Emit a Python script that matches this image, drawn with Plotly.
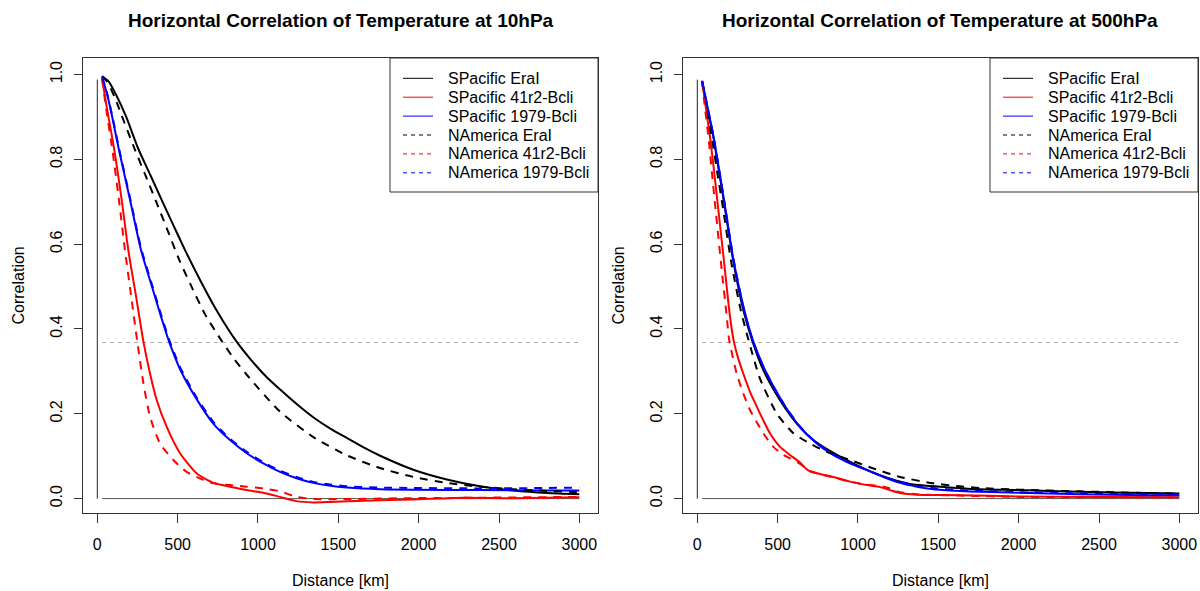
import plotly.graph_objects as go

W, H = 1200, 591

# ---------------- data ----------------
titles = ["Horizontal Correlation of Temperature at 10hPa",
          "Horizontal Correlation of Temperature at 500hPa"]
series_names = ["SPacific EraI", "SPacific 41r2-Bcli", "SPacific 1979-Bcli",
                "NAmerica EraI", "NAmerica 41r2-Bcli", "NAmerica 1979-Bcli"]
series_colors = ["#000000", "#ff0000", "#0000ff", "#000000", "#ff0000", "#0000ff"]
series_dashed = [False, False, False, True, True, True]

x_ticks = [0, 500, 1000, 1500, 2000, 2500, 3000]
y_ticks = [0.0, 0.2, 0.4, 0.6, 0.8, 1.0]
y_ticktext = ["0.0", "0.2", "0.4", "0.6", "0.8", "1.0"]
x_title = "Distance [km]"
y_title = "Correlation"

ref_level = 0.368           # 1/e reference level (dashed grey)
baseline_x = [30, 3000]     # zero line extent
baseline_y = [0.0, 0.0]
vline_x = [0, 0]            # vertical line at distance 0
vline_y = [0.0, 0.988]

# ---- 10 hPa ----
t10_sp_erai_x = [30, 70, 120, 180, 255, 330, 401, 473, 546, 650, 753, 867, 950, 1050, 1150, 1250, 1350, 1450, 1552, 1660, 1760, 1967, 2175, 2382, 2589, 2800, 3000]
t10_sp_erai_y = [0.996, 0.984, 0.950, 0.900, 0.825, 0.763, 0.704, 0.645, 0.586, 0.508, 0.437, 0.370, 0.330, 0.288, 0.253, 0.220, 0.190, 0.165, 0.143, 0.120, 0.101, 0.068, 0.045, 0.029, 0.019, 0.013, 0.010]

t10_sp_41r2_x = [30, 60, 106, 152, 193, 245, 287, 328, 370, 432, 515, 619, 722, 826, 930, 1033, 1137, 1240, 1344, 1448, 1656, 1967, 2278, 2589, 3000]
t10_sp_41r2_y = [0.990, 0.920, 0.822, 0.704, 0.586, 0.468, 0.370, 0.295, 0.232, 0.169, 0.107, 0.059, 0.037, 0.028, 0.020, 0.014, 0.004, -0.006, -0.009, -0.008, -0.005, -0.002, 0.002, 0.001, 0.003]

t10_sp_1979_x = [30, 60, 90, 135, 204, 272, 340, 400, 447, 515, 619, 722, 826, 930, 1033, 1137, 1240, 1344, 1450, 1552, 1760, 1967, 2382, 2800, 3000]
t10_sp_1979_y = [0.995, 0.955, 0.905, 0.822, 0.704, 0.586, 0.500, 0.425, 0.370, 0.305, 0.234, 0.177, 0.138, 0.107, 0.083, 0.063, 0.048, 0.037, 0.030, 0.026, 0.022, 0.021, 0.020, 0.019, 0.019]

t10_na_erai_x = [30, 60, 110, 150, 235, 300, 370, 440, 510, 580, 670, 774, 850, 930, 1137, 1345, 1552, 1760, 1967, 2175, 2382, 2589, 2800, 3000]
t10_na_erai_y = [0.996, 0.984, 0.945, 0.905, 0.822, 0.762, 0.697, 0.630, 0.563, 0.505, 0.435, 0.372, 0.330, 0.292, 0.205, 0.145, 0.102, 0.072, 0.051, 0.037, 0.028, 0.022, 0.018, 0.015]

t10_na_41r2_x = [30, 55, 94, 135, 172, 214, 249, 287, 328, 390, 473, 556, 660, 722, 826, 930, 1033, 1137, 1240, 1344, 1552, 1967, 2382, 3000]
t10_na_41r2_y = [0.990, 0.920, 0.822, 0.704, 0.586, 0.468, 0.370, 0.272, 0.193, 0.130, 0.091, 0.063, 0.044, 0.036, 0.032, 0.028, 0.024, 0.017, 0.004, -0.001, -0.001, 0.001, 0.002, 0.004]

t10_na_1979_x = [30, 60, 90, 135, 204, 272, 340, 400, 447, 515, 619, 722, 826, 930, 1033, 1137, 1240, 1344, 1450, 1552, 1760, 1967, 2382, 2800, 3000]
t10_na_1979_y = [0.995, 0.957, 0.908, 0.826, 0.709, 0.591, 0.505, 0.430, 0.375, 0.310, 0.238, 0.181, 0.141, 0.110, 0.086, 0.066, 0.051, 0.039, 0.033, 0.029, 0.026, 0.025, 0.024, 0.025, 0.026]

# ---- 500 hPa ----
t500_sp_erai_x = [30, 60, 100, 140, 172, 224, 286, 340, 411, 515, 619, 722, 850, 992, 1137, 1241, 1344, 1552, 1760, 2000, 2382, 2800, 3000]
t500_sp_erai_y = [0.983, 0.925, 0.853, 0.760, 0.685, 0.560, 0.445, 0.375, 0.303, 0.232, 0.177, 0.138, 0.107, 0.079, 0.055, 0.042, 0.033, 0.027, 0.022, 0.020, 0.016, 0.013, 0.012]

t500_sp_41r2_x = [30, 50, 79, 105, 131, 172, 200, 225, 255, 286, 330, 370, 410, 452, 515, 577, 639, 670, 701, 763, 846, 950, 1054, 1137, 1199, 1262, 1366, 1635, 2000, 2500, 3000]
t500_sp_41r2_y = [0.985, 0.930, 0.853, 0.770, 0.681, 0.539, 0.440, 0.375, 0.330, 0.295, 0.250, 0.217, 0.185, 0.154, 0.122, 0.103, 0.085, 0.073, 0.064, 0.058, 0.051, 0.040, 0.032, 0.027, 0.020, 0.013, 0.009, 0.008, 0.005, 0.004, 0.003]

t500_sp_1979_x = [30, 60, 100, 140, 172, 224, 286, 349, 432, 535, 639, 743, 846, 950, 1054, 1158, 1262, 1366, 1469, 1635, 1760, 2000, 2382, 2800, 3000]
t500_sp_1979_y = [0.985, 0.930, 0.855, 0.765, 0.690, 0.565, 0.455, 0.370, 0.295, 0.225, 0.169, 0.130, 0.103, 0.083, 0.067, 0.051, 0.037, 0.028, 0.022, 0.018, 0.016, 0.014, 0.010, 0.008, 0.008]

t500_na_erai_x = [30, 60, 90, 128, 160, 210, 270, 318, 390, 494, 598, 701, 805, 950, 1096, 1262, 1469, 1635, 1760, 2000, 2382, 2800, 3000]
t500_na_erai_y = [0.983, 0.920, 0.853, 0.760, 0.685, 0.560, 0.445, 0.375, 0.283, 0.201, 0.154, 0.130, 0.110, 0.091, 0.071, 0.051, 0.036, 0.029, 0.025, 0.021, 0.017, 0.013, 0.012]

t500_na_41r2_x = [30, 45, 69, 92, 114, 152, 183, 198, 245, 286, 328, 370, 411, 473, 535, 577, 639, 670, 701, 763, 846, 950, 1054, 1137, 1199, 1262, 1366, 1635, 2000, 2500, 3000]
t500_na_41r2_y = [0.983, 0.930, 0.853, 0.765, 0.681, 0.539, 0.430, 0.375, 0.295, 0.248, 0.209, 0.180, 0.154, 0.122, 0.103, 0.095, 0.082, 0.073, 0.065, 0.058, 0.050, 0.040, 0.033, 0.030, 0.024, 0.015, 0.010, 0.007, 0.004, 0.003, 0.003]

t500_na_1979_x = [30, 60, 100, 140, 172, 224, 286, 349, 432, 535, 639, 743, 846, 950, 1054, 1158, 1262, 1366, 1469, 1635, 1760, 2000, 2382, 2800, 3000]
t500_na_1979_y = [0.985, 0.930, 0.856, 0.767, 0.692, 0.568, 0.452, 0.368, 0.294, 0.225, 0.170, 0.131, 0.104, 0.084, 0.068, 0.052, 0.039, 0.030, 0.025, 0.020, 0.018, 0.015, 0.012, 0.010, 0.010]

panels = [
    [(t10_sp_erai_x, t10_sp_erai_y), (t10_sp_41r2_x, t10_sp_41r2_y), (t10_sp_1979_x, t10_sp_1979_y),
     (t10_na_erai_x, t10_na_erai_y), (t10_na_41r2_x, t10_na_41r2_y), (t10_na_1979_x, t10_na_1979_y)],
    [(t500_sp_erai_x, t500_sp_erai_y), (t500_sp_41r2_x, t500_sp_41r2_y), (t500_sp_1979_x, t500_sp_1979_y),
     (t500_na_erai_x, t500_na_erai_y), (t500_na_41r2_x, t500_na_41r2_y), (t500_na_1979_x, t500_na_1979_y)],
]

# ---------------- layout helpers ----------------
FONT = "Liberation Sans, Arial, Helvetica, sans-serif"
def px(x):
    return x / W
def py(y):
    return 1 - y / H

PANEL_OFFSET = [0, 600]
BOX_L, BOX_R, BOX_T, BOX_B = 83, 598, 58, 513
X_RANGE = [-89, 3116]
Y_RANGE = [-0.034, 1.039]

fig = go.Figure()
shapes = []
annotations = []

for p in range(2):
    off = PANEL_OFFSET[p]
    xa = "x" if p == 0 else "x2"
    ya = "y" if p == 0 else "y2"
    # reference lines
    fig.add_trace(go.Scatter(x=vline_x, y=vline_y, mode="lines", xaxis=xa, yaxis=ya,
                             line=dict(color="#222222", width=1), showlegend=False, hoverinfo="skip"))
    fig.add_trace(go.Scatter(x=baseline_x, y=baseline_y, mode="lines", xaxis=xa, yaxis=ya,
                             line=dict(color="#555555", width=1), showlegend=False, hoverinfo="skip"))
    fig.add_trace(go.Scatter(x=baseline_x, y=[ref_level, ref_level], mode="lines", xaxis=xa, yaxis=ya,
                             line=dict(color="#aaaaaa", width=1, dash="4px,4px"), showlegend=False, hoverinfo="skip"))
    for i, (sx, sy) in enumerate(panels[p]):
        fig.add_trace(go.Scatter(
            x=sx, y=sy, mode="lines", xaxis=xa, yaxis=ya, name=series_names[i],
            line=dict(color=series_colors[i], width=2, shape="spline", smoothing=0.6,
                      dash="8px,7px" if series_dashed[i] else "solid"),
            showlegend=False))

    # title and axis titles
    cx = (BOX_L + BOX_R) / 2 + off
    annotations.append(dict(text=titles[p], x=px(cx), y=py(21), xref="paper", yref="paper",
                            showarrow=False, xanchor="center", yanchor="middle",
                            font=dict(family=FONT, size=19, color="#000000", weight="bold")))
    annotations.append(dict(text=x_title, x=px(cx), y=py(580), xref="paper", yref="paper",
                            showarrow=False, xanchor="center", yanchor="middle",
                            font=dict(family=FONT, size=16, color="#000000")))
    annotations.append(dict(text=y_title, x=px(18 + off), y=py((BOX_T + BOX_B) / 2), xref="paper", yref="paper",
                            showarrow=False, xanchor="center", yanchor="middle", textangle=-90,
                            font=dict(family=FONT, size=16, color="#000000")))

    # legend (drawn like R's legend box)
    shapes.append(dict(type="rect", xref="paper", yref="paper",
                       x0=px(390 + off), x1=px(598 + off), y0=py(192), y1=py(58),
                       line=dict(color="#333333", width=1), fillcolor="white", layer="above"))
    for i, name in enumerate(series_names):
        yy = 78.3 + i * 18.9
        shapes.append(dict(type="line", xref="paper", yref="paper",
                           x0=px(403 + off), x1=px(433 + off), y0=py(yy), y1=py(yy),
                           line=dict(color=series_colors[i], width=1,
                                     dash="4px,4px" if series_dashed[i] else "solid"),
                           layer="above"))
        annotations.append(dict(text=name, x=px(446 + off), y=py(yy), xref="paper", yref="paper",
                                showarrow=False, xanchor="left", yanchor="middle",
                                font=dict(family=FONT, size=16, color="#000000")))

axis_common_x = dict(range=X_RANGE, tickmode="array", tickvals=x_ticks, ticks="outside", ticklen=9,
                     tickcolor="#333333", showline=True, mirror=True, linecolor="#333333", linewidth=1,
                     showgrid=False, zeroline=False, ticklabelstandoff=8,
                     tickfont=dict(family=FONT, size=16, color="#000000"))
axis_common_y = dict(range=Y_RANGE, tickmode="array", tickvals=y_ticks, ticktext=y_ticktext,
                     ticks="outside", ticklen=8, tickangle=-90,
                     tickcolor="#333333", showline=True, mirror=True, linecolor="#333333", linewidth=1,
                     showgrid=False, zeroline=False, ticklabelstandoff=6,
                     tickfont=dict(family=FONT, size=16, color="#000000"))

fig.update_layout(
    width=W, height=H,
    margin=dict(l=0, r=0, t=0, b=0),
    paper_bgcolor="white", plot_bgcolor="white",
    showlegend=False,
    xaxis=dict(domain=[px(BOX_L), px(BOX_R)], anchor="y", **axis_common_x),
    yaxis=dict(domain=[py(BOX_B), py(BOX_T)], anchor="x", **axis_common_y),
    xaxis2=dict(domain=[px(BOX_L + 600), px(BOX_R + 600)], anchor="y2", **axis_common_x),
    yaxis2=dict(domain=[py(BOX_B), py(BOX_T)], anchor="x2", **axis_common_y),
    shapes=shapes,
    annotations=annotations,
)

fig.write_html("out.html")
